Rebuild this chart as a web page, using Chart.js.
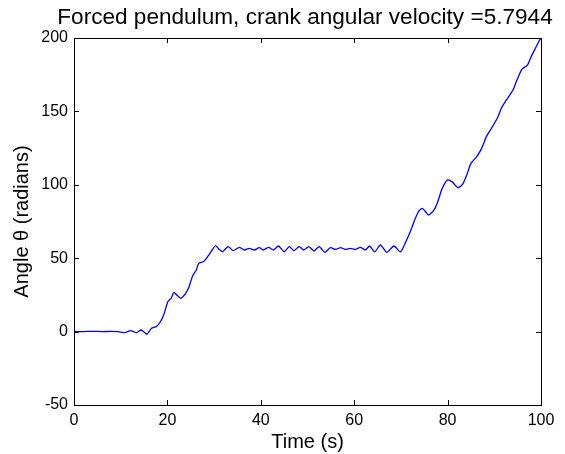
<!DOCTYPE html>
<html>
<head>
<meta charset="utf-8">
<script src="https://cdn.jsdelivr.net/npm/chart.js@4"></script>
<style>
  body { margin: 0; background: #fff; }
  #wrap { width: 565px; height: 454px; }
</style>
</head>
<body>
<div id="wrap"><canvas id="canvas-pendulum" width="565" height="454"></canvas></div>
<script>
// time (s) and angle (rad)
var timeS = [
  0, 2, 4, 6, 8, 9.5, 10.9, 12.1, 13.4, 14.4,
  15.6, 16.6, 17.6, 18.3, 19.2, 20.1, 20.8, 21.4, 22.0, 22.9,
  23.9, 24.6, 25.4, 26.2, 26.7, 27.7, 28.6, 29.6, 30.3, 31.1,
  31.8, 33.0, 34.1, 35.4, 36.5, 37.5, 38.6, 39.7, 40.5, 41.7,
  42.7, 43.8, 45.0, 46.1, 47.1, 48.2, 49.2, 50.3, 51.4, 52.5,
  53.7, 54.9, 56.0, 57.1, 58.1, 59.2, 60.3, 61.3, 62.4, 63.3,
  64.4, 65.6, 67.0, 68.5, 69.9, 70.9, 72.0, 73.1, 73.9, 74.6,
  75.2, 75.9, 77.0, 77.9, 78.7, 79.4, 80.0, 81.0, 82.2, 83.2,
  84.1, 85.0, 86.2, 87.3, 88.3, 89.4, 90.8, 91.5, 92.6, 94.0,
  94.7, 95.9, 97.1, 97.9, 98.8, 99.7, 100
];
var angleRad = [
  0, 0, 0.2, 0, 0.1, 0, -0.7, 0.6, -0.7, 1.1,
  -1.8, 2.2, 3.4, 5.7, 11.3, 20.4, 22.7, 26.8, 25, 22.7,
  26.1, 30.2, 37.9, 42, 46.5, 47.6, 51, 55.6, 58.5, 56,
  54.4, 57.9, 55.1, 57.4, 55.6, 56.7, 55.6, 57.2, 55.6, 57.4,
  55.6, 58.3, 54.4, 57.9, 55.1, 57.9, 55.6, 57.9, 54.9, 57.9,
  54.0, 57.2, 56.0, 57.2, 56.0, 56.7, 56.0, 57.4, 55.6, 58.3,
  54.3, 59.0, 54.0, 58.3, 54.3, 60.1, 68, 77.2, 82.4, 84,
  82, 79.4, 82.4, 88.5, 96.5, 101, 103.3, 102, 98, 100.3,
  106.7, 114.6, 119.1, 124.8, 132.8, 138.5, 146.4, 152.1, 157.8, 164.6,
  170.2, 178.6, 181.6, 187.3, 193, 198.6, 200
];
var xTicks = [0, 20, 40, 60, 80, 100];
var yTicks = [-50, 0, 50, 100, 150, 200];
var titleText = 'Forced pendulum, crank angular velocity =5.7944';

var points = timeS.map(function (t, i) { return { x: t, y: angleRad[i] }; });

// matlab style box + inward ticks on all four sides, title over the axes
var boxPlugin = {
  id: 'box',
  afterDraw: function (chart) {
    var ctx = chart.ctx, a = chart.chartArea;
    var sx = chart.scales.x, sy = chart.scales.y, len = 5;
    ctx.save();
    ctx.strokeStyle = '#000';
    ctx.lineWidth = 1;
    ctx.strokeRect(Math.round(a.left) + 0.5, Math.round(a.top) + 0.5,
      Math.round(a.right - a.left), Math.round(a.bottom - a.top));
    ctx.beginPath();
    xTicks.forEach(function (v) {
      var px = Math.round(sx.getPixelForValue(v)) + 0.5;
      ctx.moveTo(px, a.bottom); ctx.lineTo(px, a.bottom - len);
      ctx.moveTo(px, a.top); ctx.lineTo(px, a.top + len);
    });
    yTicks.forEach(function (v) {
      var py = Math.round(sy.getPixelForValue(v)) + 0.5;
      ctx.moveTo(a.left, py); ctx.lineTo(a.left + len, py);
      ctx.moveTo(a.right, py); ctx.lineTo(a.right - len, py);
    });
    ctx.stroke();
    ctx.fillStyle = '#000';
    ctx.font = '22.6px "Liberation Sans", Arial, sans-serif';
    ctx.textAlign = 'center';
    ctx.textBaseline = 'alphabetic';
    ctx.fillText(titleText, (a.left + a.right) / 2 - 2.5, 24);
    ctx.restore();
  }
};

var ctx = document.getElementById('canvas-pendulum').getContext('2d');
var chartPendulum = new Chart(ctx, {
  type: 'line',
  data: {
    datasets: [{
      data: points,
      borderColor: '#0000ff',
      borderWidth: 1.3,
      pointRadius: 0,
      tension: 0.2,
      fill: false
    }]
  },
  options: {
    responsive: false,
    animation: false,
    layout: { padding: { left: 0, right: 24, top: 38, bottom: 0 } },
    plugins: {
      legend: { display: false },
      tooltip: { enabled: false },
      title: { display: false }
    },
    scales: {
      x: {
        type: 'linear',
        min: 0, max: 100,
        afterBuildTicks: function (s) { s.ticks = xTicks.map(function (v) { return { value: v }; }); },
        afterFit: function (s) { s.height = 49; },
        grid: { display: true, drawOnChartArea: false, drawTicks: false },
        border: { display: true, color: '#000', width: 1 },
        ticks: {
          color: '#000', padding: 6, maxRotation: 0,
          font: { family: 'Liberation Sans, Arial, sans-serif', size: 16 }
        },
        title: {
          display: true, text: 'Time (s)', color: '#000',
          padding: { top: 0, bottom: 0 },
          font: { family: 'Liberation Sans, Arial, sans-serif', size: 20 }
        }
      },
      y: {
        type: 'linear',
        min: -50, max: 200,
        afterBuildTicks: function (s) { s.ticks = yTicks.map(function (v) { return { value: v }; }); },
        afterFit: function (s) { s.width = 74; },
        grid: { display: true, drawOnChartArea: false, drawTicks: false },
        border: { display: true, color: '#000', width: 1 },
        ticks: {
          color: '#000', padding: 6,
          font: { family: 'Liberation Sans, Arial, sans-serif', size: 16 }
        },
        title: {
          display: true, text: 'Angle \u03b8 (radians)', color: '#000',
          padding: { top: 10, bottom: 10 },
          font: { family: 'Liberation Sans, Arial, sans-serif', size: 20 }
        }
      }
    }
  },
  plugins: [boxPlugin]
});
</script>
</body>
</html>
